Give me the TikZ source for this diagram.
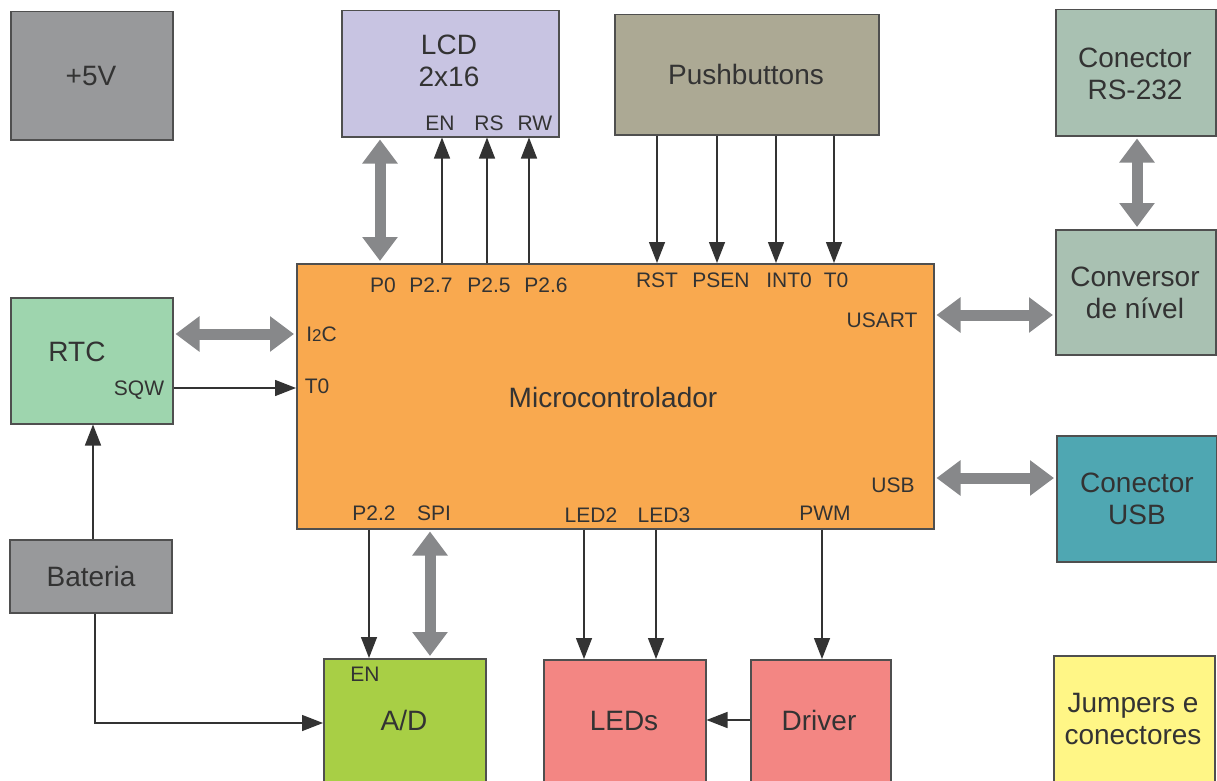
\documentclass[tikz,border=0pt]{standalone}
\usepackage{fontspec}
\setmainfont{Liberation Sans}
\usetikzlibrary{arrows.meta}
\definecolor{txt}{HTML}{333333}
\definecolor{bord}{HTML}{4F4F4F}
\definecolor{cgray}{HTML}{98999B}
\definecolor{clcd}{HTML}{C8C4E2}
\definecolor{cpush}{HTML}{ACA994}
\definecolor{cgreen}{HTML}{A9C1B2}
\definecolor{crtc}{HTML}{9ED5AE}
\definecolor{cmcu}{HTML}{F9A94F}
\definecolor{cad}{HTML}{A8CF45}
\definecolor{cled}{HTML}{F38683}
\definecolor{cusb}{HTML}{4FA7B2}
\definecolor{cjmp}{HTML}{FFF686}
\definecolor{carr}{HTML}{87888A}
\definecolor{cthin}{HTML}{333333}
\begin{document}
\begin{tikzpicture}[x=1pt,y=-1pt,
  box/.style={draw=bord, line width=1.5pt, anchor=north west, inner sep=0pt},
  bigtxt/.style={text=txt, font=\fontsize{28}{32}\selectfont, align=center, inner sep=0pt},
  bigone/.style={bigtxt, text height=20pt, text depth=0pt},
  smtxt/.style={text=txt, font=\fontsize{21}{24}\selectfont, inner sep=0pt, text height=15pt, text depth=0pt},
  bigarr/.style={draw=carr, line width=11pt, {Triangle[width=34pt,length=24pt]}-{Triangle[width=34pt,length=24pt]}, shorten <=2pt, shorten >=2pt},
  thinarr/.style={draw=cthin, line width=1.4pt, -{Triangle[width=16pt,length=21pt]}}
]
\clip (0,0) rectangle (1217,781);
\fill[white] (0,0) rectangle (1217,781);

% boxes
\node[box, fill=cgray, minimum width=162pt, minimum height=128pt] (five) at (10,11) {};
\node[box, fill=clcd, minimum width=217pt, minimum height=126pt] (lcd) at (341,10) {};
\node[box, fill=cpush, minimum width=264pt, minimum height=120pt] (push) at (614,14) {};
\node[box, fill=cgreen, minimum width=160pt, minimum height=126pt] (rs) at (1055,9) {};
\node[box, fill=cgreen, minimum width=160pt, minimum height=125pt] (conv) at (1055,229) {};
\node[box, fill=crtc, minimum width=162pt, minimum height=126pt] (rtc) at (10,297) {};
\node[box, fill=cmcu, minimum width=637pt, minimum height=265pt] (mcu) at (296,263) {};
\node[box, fill=cusb, minimum width=160pt, minimum height=126pt] (usb) at (1056,435) {};
\node[box, fill=cgray, minimum width=162pt, minimum height=73pt] (bat) at (9,539) {};
\node[box, fill=cad, minimum width=162pt, minimum height=135pt] (ad) at (323,658) {};
\node[box, fill=cled, minimum width=162pt, minimum height=135pt] (leds) at (543,659) {};
\node[box, fill=cled, minimum width=140pt, minimum height=135pt] (drv) at (750,659) {};
\node[box, fill=cjmp, minimum width=161pt, minimum height=135pt] (jmp) at (1053,655) {};

% big texts
\node[bigone] (t5v) at (91,76) {+5V};
\node[bigtxt] (tlcd) at (449,61) {LCD\\2x16};
\node[bigone] (tpush) at (746,75) {Pushbuttons};
\node[bigtxt] (trs) at (1135,74) {Conector\\RS-232};
\node[bigtxt] (tconv) at (1135,293) {Conversor\\de nível};
\node[bigone] (trtc) at (77,351) {RTC};
\node[bigone] (tmcu) at (613,397) {Microcontrolador};
\node[bigtxt] (tusb) at (1137,499) {Conector\\USB};
\node[bigone] (tbat) at (91,576) {Bateria};
\node[bigone] (tad) at (404,720) {A/D};
\node[bigone] (tleds) at (624,720) {LEDs};
\node[bigone] (tdrv) at (819,720) {Driver};
\node[bigtxt] (tjmp) at (1133,719) {Jumpers e\\conectores};

% small labels
\node[smtxt] (len) at (440,123) {EN};
\node[smtxt] (lrs) at (489,123) {RS};
\node[smtxt] (lrw) at (535,123) {RW};
\node[smtxt] (lp0) at (383,285) {P0};
\node[smtxt] (lp27) at (431,285) {P2.7};
\node[smtxt] (lp25) at (489,285) {P2.5};
\node[smtxt] (lp26) at (546,285) {P2.6};
\node[smtxt] (lrst) at (657,280) {RST};
\node[smtxt] (lpsen) at (721,280) {PSEN};
\node[smtxt] (lint) at (789,280) {INT0};
\node[smtxt] (lt0a) at (836,280) {T0};
\node[smtxt] (lusart) at (882,320) {USART};
\node[smtxt] (li2c) at (321.5,334) {I{\fontsize{17}{20}\selectfont 2}C};
\node[smtxt] (lt0b) at (317,386) {T0};
\node[smtxt] (lsqw) at (139,388) {SQW};
\node[smtxt] (lusb) at (893,485) {USB};
\node[smtxt] (lp22) at (374,513) {P2.2};
\node[smtxt] (lspi) at (434,513) {SPI};
\node[smtxt] (lled2) at (591,515) {LED2};
\node[smtxt] (lled3) at (664,515) {LED3};
\node[smtxt] (lpwm) at (825,513) {PWM};
\node[smtxt] (laden) at (365,674) {EN};

% column/row coordinates
\coordinate (cP0) at (380,0);
\coordinate (cEN) at (442,0);
\coordinate (cRS) at (487,0);
\coordinate (cRW) at (529,0);
\coordinate (cRST) at (657,0);
\coordinate (cPSEN) at (717,0);
\coordinate (cINT) at (776,0);
\coordinate (cT0) at (834,0);
\coordinate (cRSV) at (1137,0);
\coordinate (rUSART) at (0,315);
\coordinate (rUSB) at (0,478);
\coordinate (rI2C) at (0,334);
\coordinate (rSQW) at (0,388);
\coordinate (cBR) at (93,0);
\coordinate (cB) at (95,723);
\coordinate (cP22) at (369,0);
\coordinate (cSPI) at (430,0);
\coordinate (cL2) at (584,0);
\coordinate (cL3) at (656,0);
\coordinate (cPWM) at (822,0);
\coordinate (rDRV) at (0,720);

% connectors
\draw[bigarr] (lcd.south -| cP0) -- (mcu.north -| cP0);
\draw[thinarr] (mcu.north -| cEN) -- (lcd.south -| cEN);
\draw[thinarr] (mcu.north -| cRS) -- (lcd.south -| cRS);
\draw[thinarr] (mcu.north -| cRW) -- (lcd.south -| cRW);
\draw[thinarr] (push.south -| cRST) -- (mcu.north -| cRST);
\draw[thinarr] (push.south -| cPSEN) -- (mcu.north -| cPSEN);
\draw[thinarr] (push.south -| cINT) -- (mcu.north -| cINT);
\draw[thinarr] (push.south -| cT0) -- (mcu.north -| cT0);
\draw[bigarr] (rs.south -| cRSV) -- (conv.north -| cRSV);
\draw[bigarr] (mcu.east |- rUSART) -- (conv.west |- rUSART);
\draw[bigarr] (mcu.east |- rUSB) -- (usb.west |- rUSB);
\draw[bigarr] (rtc.east |- rI2C) -- (mcu.west |- rI2C);
\draw[thinarr] (rtc.east |- rSQW) -- (mcu.west |- rSQW);
\draw[thinarr] (bat.north -| cBR) -- (rtc.south -| cBR);
\draw[thinarr] (bat.south -| cB) |- (ad.west |- cB);
\draw[thinarr] (mcu.south -| cP22) -- (ad.north -| cP22);
\draw[bigarr] (mcu.south -| cSPI) -- (ad.north -| cSPI);
\draw[thinarr] (mcu.south -| cL2) -- (leds.north -| cL2);
\draw[thinarr] (mcu.south -| cL3) -- (leds.north -| cL3);
\draw[thinarr] (mcu.south -| cPWM) -- (drv.north -| cPWM);
\draw[thinarr] (drv.west |- rDRV) -- (leds.east |- rDRV);
\end{tikzpicture}
\end{document}
